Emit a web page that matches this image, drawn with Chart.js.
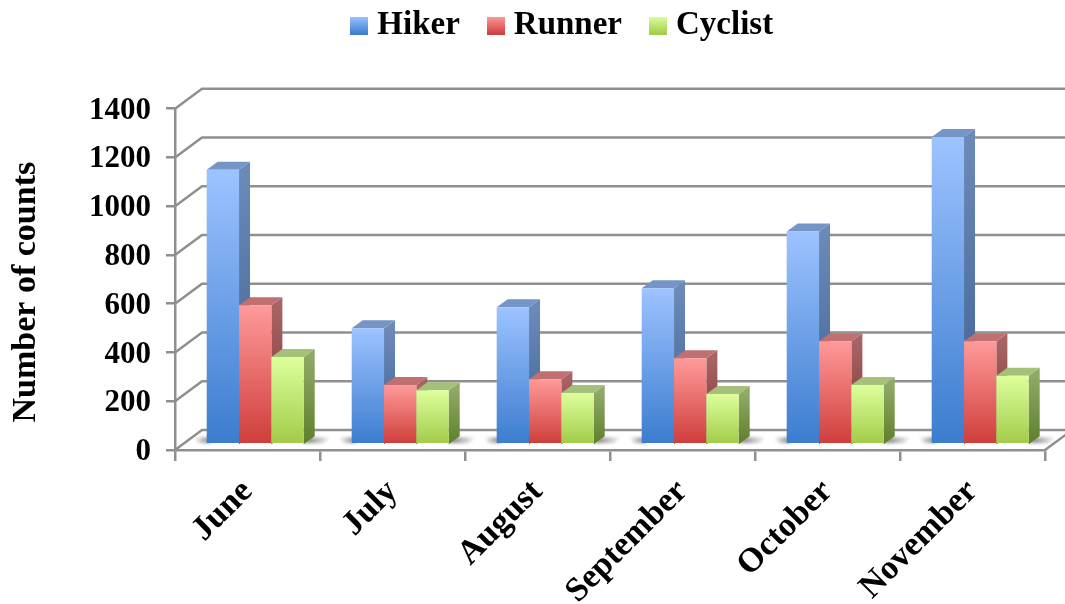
<!DOCTYPE html>
<html lang="en">
<head>
<meta charset="utf-8">
<title>Counts by month</title>
<script src="https://cdn.jsdelivr.net/npm/chart.js@4"></script>
<style>
  html, body { margin: 0; padding: 0; background: #fff; }
  canvas { display: block; }
</style>
</head>
<body>
<canvas id="chart" width="1065" height="604"></canvas>
<script>
const months = ["June", "July", "August", "September", "October", "November"];
const hiker = [1126, 476, 562, 640, 873, 1261];
const runner = [570, 243, 267, 353, 423, 423];
const cyclist = [358, 222, 210, 206, 243, 281];
const seriesNames = ["Hiker", "Runner", "Cyclist"];

// light, dark for front / top / side light, side dark
const palette = [
  { front: ["#9dc3ff", "#3b7ccf"], top: "#7595c6", side: ["#6c8ab8", "#3c5f92"] },
  { front: ["#ff9a9a", "#ce3d3a"], top: "#c07070", side: ["#a86464", "#7e2f2d"] },
  { front: ["#ddff9c", "#a1cb48"], top: "#a5c078", side: ["#8fa966", "#5f7f2b"] }
];

const fontName = "'Liberation Serif', serif";
const gridColor = "#8f8f8f";
// fake depth of the chart box and of the bars
const depthX = 27, depthY = 20;
const barDepthX = 11, barDepthY = 8;
const barShiftX = 7.7, barShiftY = 5.7;

function frontFill(ctx, i) {
  const chart = ctx.chart;
  if (!chart.chartArea || ctx.raw === undefined) return palette[i].front[0];
  const y = chart.scales.y;
  const g = chart.ctx.createLinearGradient(0, y.getPixelForValue(ctx.raw), 0, y.getPixelForValue(0));
  g.addColorStop(0, palette[i].front[0]);
  g.addColorStop(1, palette[i].front[1]);
  return g;
}

function legendSwatch(i) {
  const c = document.createElement("canvas");
  c.width = 18; c.height = 18;
  const x = c.getContext("2d");
  const g = x.createLinearGradient(0, 0, 0, 18);
  g.addColorStop(0, palette[i].front[0]);
  g.addColorStop(1, palette[i].front[1]);
  x.fillStyle = g;
  x.fillRect(0, 0, 18, 18);
  return c;
}

function poly(ctx, pts) {
  ctx.beginPath();
  ctx.moveTo(pts[0][0], pts[0][1]);
  for (let i = 1; i < pts.length; i++) ctx.lineTo(pts[i][0], pts[i][1]);
  ctx.closePath();
  ctx.fill();
}

const box3d = {
  id: "box3d",
  // legend sits centred over the plot, not over the canvas
  afterLayout(chart) {
    chart.legend.left += 43;
    chart.legend.right += 43;
  },
  beforeDatasetsDraw(chart) {
    const ctx = chart.ctx, y = chart.scales.y, a = chart.chartArea;
    ctx.save();
    ctx.strokeStyle = gridColor;
    ctx.lineWidth = 2.5;
    ctx.lineJoin = "round";
    y.ticks.forEach(t => {
      const py = y.getPixelForValue(t.value);
      ctx.beginPath();
      ctx.moveTo(a.left, py);
      ctx.lineTo(a.left + depthX, py - depthY);
      ctx.lineTo(a.right + depthX, py - depthY);
      ctx.stroke();
    });
    ctx.beginPath();
    ctx.moveTo(a.right, a.bottom);
    ctx.lineTo(a.right + depthX, a.bottom - depthY);
    ctx.stroke();

    // soft shadows on the floor either side of each group
    const first = chart.getDatasetMeta(0).data, last = chart.getDatasetMeta(2).data;
    const y1 = a.bottom - barShiftY, y0 = y1 - barDepthY;
    ctx.filter = "blur(1.5px)";
    first.forEach((bar, i) => {
      const l = bar.x - bar.width / 2 + barShiftX;
      const r = last[i].x + last[i].width / 2 + barShiftX;
      let g = ctx.createLinearGradient(l - 13, 0, l, 0);
      g.addColorStop(0, "rgba(80,80,80,0)");
      g.addColorStop(1, "rgba(80,80,80,0.55)");
      ctx.fillStyle = g;
      poly(ctx, [[l - 13, y0 + 1], [l + 4, y0 + 1], [l + 4, y1 - 1], [l - 8, y1 - 1]]);
      g = ctx.createLinearGradient(r + 6, 0, r + 28, 0);
      g.addColorStop(0, "rgba(80,80,80,0.6)");
      g.addColorStop(1, "rgba(80,80,80,0)");
      ctx.fillStyle = g;
      poly(ctx, [[r + 6, y0 + 1], [r + 28, y0 + 1], [r + 20, y1 - 1], [r, y1 - 1]]);
    });
    ctx.filter = "none";
    ctx.restore();
  },
  // chart.js paints the last dataset first, here the first one has to go under the others
  beforeDatasetDraw() {
    return false;
  },
  afterDatasetsDraw(chart) {
    const ctx = chart.ctx, base = chart.scales.y.getPixelForValue(0);
    ctx.save();
    ctx.translate(barShiftX, -barShiftY);
    seriesNames.forEach((name, i) => {
      const meta = chart.getDatasetMeta(i), p = palette[i];
      meta.data.forEach(bar => {
        const l = bar.x - bar.width / 2, r = bar.x + bar.width / 2, t = bar.y;
        const g = ctx.createLinearGradient(0, t, 0, base);
        g.addColorStop(0, p.side[0]);
        g.addColorStop(1, p.side[1]);
        ctx.fillStyle = g;
        poly(ctx, [[r, t], [r + barDepthX, t - barDepthY], [r + barDepthX, base - barDepthY], [r, base]]);
        ctx.fillStyle = p.top;
        poly(ctx, [[l, t], [l + barDepthX, t - barDepthY], [r + barDepthX, t - barDepthY], [r, t]]);
      });
      meta.controller.draw();
    });
    ctx.restore();
  }
};

function makeDataset(i, values) {
  return {
    label: seriesNames[i],
    data: values,
    borderWidth: 0,
    backgroundColor: ctx => frontFill(ctx, i)
  };
}

new Chart(document.getElementById("chart"), {
  type: "bar",
  data: {
    labels: months,
    datasets: [makeDataset(0, hiker), makeDataset(1, runner), makeDataset(2, cyclist)]
  },
  plugins: [box3d],
  options: {
    responsive: false,
    animation: false,
    layout: { padding: { top: -25.5, right: 20, left: 0, bottom: 0 } },
    datasets: { bar: { barPercentage: 1, categoryPercentage: 0.669 } },
    plugins: {
      tooltip: { enabled: false },
      // empty spacer between legend and plot
      title: {
        display: true,
        text: " ",
        weight: 0,
        font: { size: 1 },
        padding: { top: 0, bottom: 55.5 }
      },
      legend: {
        position: "top",
        labels: {
          font: { family: fontName, size: 33, weight: "bold" },
          color: "#000",
          usePointStyle: true,
          pointStyleWidth: 3,
          boxHeight: 18,
          padding: 34.5,
          generateLabels: () => seriesNames.map((name, i) => ({
            text: name,
            fontColor: "#000",
            pointStyle: legendSwatch(i),
            datasetIndex: i,
            hidden: false
          }))
        }
      }
    },
    scales: {
      x: {
        afterFit: s => { s.height = 154; },
        grid: { drawOnChartArea: false, color: gridColor, tickLength: 11, lineWidth: 2.5 },
        border: { color: gridColor, width: 2.5 },
        ticks: {
          maxRotation: 45,
          minRotation: 45,
          padding: 11,
          color: "#000",
          font: { family: fontName, size: 34, weight: "bold" }
        }
      },
      y: {
        min: 0,
        max: 1400,
        afterFit: s => { s.width = 175; },
        grid: { drawOnChartArea: false, color: gridColor, tickLength: 9, lineWidth: 2.5 },
        border: { color: gridColor, width: 2.5 },
        title: {
          display: true,
          text: "Number of counts   ",
          color: "#000",
          padding: { top: 6, bottom: 0 },
          font: { family: fontName, size: 34, weight: "bold" }
        },
        ticks: {
          stepSize: 200,
          padding: 15,
          labelOffset: 2,
          color: "#000",
          callback: v => String(v),
          font: { family: fontName, size: 31, weight: "bold" }
        }
      }
    }
  }
});
</script>
</body>
</html>
